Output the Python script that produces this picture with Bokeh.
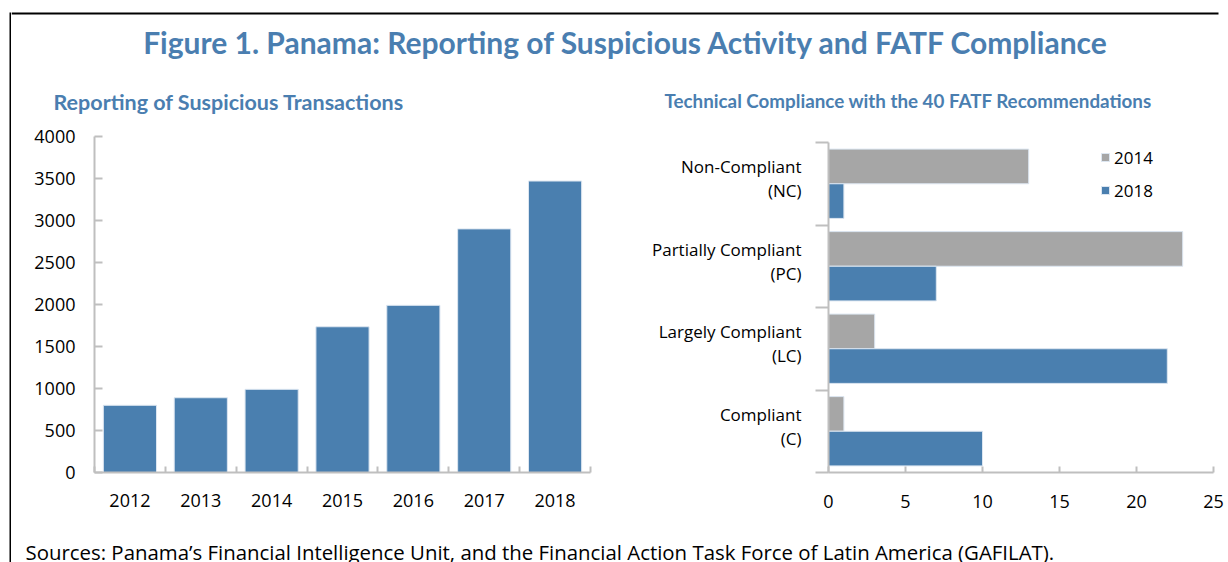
from bokeh.plotting import figure
from bokeh.layouts import column, row
from bokeh.models import Range1d, FixedTicker, Label, ColumnDataSource
from bokeh.transform import dodge
from bokeh.embed import file_html
from bokeh.resources import INLINE

# ---------------- data ----------------
title_text = "Figure 1. Panama: Reporting of Suspicious Activity and FATF Compliance"
left_title = "Reporting of Suspicious Transactions"
right_title = "Technical Compliance with the 40 FATF Recommendations"
source_text = ("Sources: Panama\u2019s Financial Intelligence Unit, and the Financial "
               "Action Task Force of Latin America (GAFILAT).")

years = ["2012", "2013", "2014", "2015", "2016", "2017", "2018"]
reports = [800, 890, 990, 1735, 1990, 2900, 3470]
report_ticks = [0, 500, 1000, 1500, 2000, 2500, 3000, 3500, 4000]

compliance_cats = ["Non-Compliant\n(NC)", "Partially Compliant\n(PC)",
                   "Largely Compliant\n(LC)", "Compliant\n(C)"]
ratings_2014 = [13, 23, 3, 1]
ratings_2018 = [1, 7, 22, 10]
rating_ticks = [0, 5, 10, 15, 20, 25]
series_names = ["2014", "2018"]

# ---------------- styles ----------------
BLUE = "#4A7FAF"
GREY = "#A6A6A6"
AXIS = "#BFBFBF"
EDGE = "#DCE6F1"
TITLE_BLUE = "#4A7EB0"
TITLE_FONT = "Lato"
TICK_FONT = "Open Sans"
STRIP_W = 11
W = 1217
HEADER_H = 118
ROW_H = 402
FOOTER_H = 42
TOTAL_H = HEADER_H + ROW_H + FOOTER_H
TOP_PAD = 0.073      # extra space above the first category band (band units)
LABEL_SHIFT = 0.06   # category labels sit slightly above band centres


def blank(width, height):
    p = figure(width=width, height=height, x_range=Range1d(0, width),
               y_range=Range1d(0, height), toolbar_location=None, title=None,
               output_backend="svg", x_axis_type=None, y_axis_type=None,
               min_border=0)
    p.grid.visible = False
    p.outline_line_color = None
    return p


# ---------------- frame lines (decoration) ----------------
strip = blank(STRIP_W, TOTAL_H)
strip.segment(x0=[10], y0=[0], x1=[10], y1=[TOTAL_H - 12], line_color="black",
              line_width=2)

# ---------------- header ----------------
header = blank(W, HEADER_H)
header.segment(x0=[0], y0=[HEADER_H - 13], x1=[W - 10], y1=[HEADER_H - 13],
               line_color="black", line_width=2)
header.add_layout(Label(x=615, y=77, text=title_text, text_align="center",
                        text_baseline="middle", text_font=TITLE_FONT,
                        text_font_style="bold", text_font_size="30px",
                        text_color=TITLE_BLUE))
header.add_layout(Label(x=42, y=17, text=left_title, text_align="left",
                        text_baseline="middle", text_font=TITLE_FONT,
                        text_font_style="bold", text_font_size="21.5px",
                        text_color=TITLE_BLUE))
header.add_layout(Label(x=653, y=18, text=right_title, text_align="left",
                        text_baseline="middle", text_font=TITLE_FONT,
                        text_font_style="bold", text_font_size="18.8px",
                        text_color=TITLE_BLUE))

# ---------------- left chart ----------------
left_src = ColumnDataSource(dict(x=list(range(len(years))), top=reports))
left = figure(width=609, height=ROW_H, x_range=Range1d(-0.5, len(years) - 0.5),
              y_range=Range1d(report_ticks[0], report_ticks[-1]),
              toolbar_location=None, title=None, output_backend="svg",
              min_border_left=83, min_border_right=30,
              min_border_top=18, min_border_bottom=48)
left.grid.visible = False
left.outline_line_color = None
left.vbar(x="x", top="top", width=0.75, source=left_src, fill_color=BLUE,
          line_color=EDGE, line_width=1)

xa = left.xaxis[0]
xa.ticker = FixedTicker(ticks=list(range(len(years))),
                        minor_ticks=[i - 0.5 for i in range(len(years) + 1)])
xa.major_label_overrides = {i: y for i, y in enumerate(years)}
xa.major_tick_line_color = None
xa.major_tick_in = 0
xa.major_tick_out = 0
xa.minor_tick_in = 6
xa.minor_tick_out = 0
xa.minor_tick_line_color = AXIS
xa.minor_tick_line_width = 2
xa.axis_line_color = AXIS
xa.axis_line_width = 2
xa.major_label_standoff = 21
xa.major_label_text_font = TICK_FONT
xa.major_label_text_font_size = "18px"
xa.major_label_text_color = "#000000"

ya = left.yaxis[0]
ya.ticker = FixedTicker(ticks=report_ticks)
ya.major_tick_in = 8
ya.major_tick_out = 0
ya.minor_tick_in = 0
ya.minor_tick_out = 0
ya.major_tick_line_color = AXIS
ya.major_tick_line_width = 2
ya.minor_tick_line_color = None
ya.axis_line_color = AXIS
ya.axis_line_width = 2
ya.major_label_standoff = 19
ya.major_label_text_font = TICK_FONT
ya.major_label_text_font_size = "18px"
ya.major_label_text_color = "#000000"

# ---------------- right chart ----------------
idx = list(range(len(compliance_cats)))
right_src = ColumnDataSource(dict(idx=idx, a=ratings_2014, b=ratings_2018))
right = figure(width=608, height=ROW_H,
               x_range=Range1d(rating_ticks[0], rating_ticks[-1]),
               y_range=Range1d(len(idx) - 0.5, -0.5 - TOP_PAD),
               toolbar_location=None, title=None, output_backend="svg",
               min_border_left=208, min_border_right=15,
               min_border_top=18, min_border_bottom=48)
right.grid.visible = False
right.outline_line_color = None
right.hbar(y=dodge("idx", -0.21), right="a", height=0.42, source=right_src,
           fill_color=GREY, line_color=EDGE, line_width=1,
           legend_label=series_names[0])
right.hbar(y=dodge("idx", 0.21), right="b", height=0.42, source=right_src,
           fill_color=BLUE, line_color=EDGE, line_width=1,
           legend_label=series_names[1])

rx = right.xaxis[0]
rx.ticker = FixedTicker(ticks=rating_ticks)
rx.major_tick_in = 6
rx.major_tick_out = 0
rx.minor_tick_in = 0
rx.minor_tick_out = 0
rx.major_tick_line_color = AXIS
rx.major_tick_line_width = 2
rx.minor_tick_line_color = None
rx.axis_line_color = AXIS
rx.axis_line_width = 2
rx.major_label_standoff = 22
rx.major_label_text_font = TICK_FONT
rx.major_label_text_font_size = "18px"
rx.major_label_text_color = "#000000"

label_pos = [i - LABEL_SHIFT for i in idx]
ry = right.yaxis[0]
ry.ticker = FixedTicker(ticks=label_pos,
                        minor_ticks=[i - 0.5 for i in range(len(idx) + 1)])
ry.bounds = (-0.5, len(idx) - 0.5)
ry.major_label_overrides = {p: c for p, c in zip(label_pos, compliance_cats)}
ry.major_tick_line_color = None
ry.major_tick_in = 0
ry.major_tick_out = 0
ry.minor_tick_in = 0
ry.minor_tick_out = 13
ry.minor_tick_line_color = AXIS
ry.minor_tick_line_width = 2
ry.axis_line_color = AXIS
ry.axis_line_width = 2
ry.major_label_standoff = 14
ry.major_label_text_font = TICK_FONT
ry.major_label_text_font_size = "17px"
ry.major_label_text_line_height = 1.05
ry.major_label_text_align = "center"
ry.major_label_text_color = "#000000"

lg = right.legend[0]
lg.location = (272, 270)
lg.padding = 0
lg.margin = 0
lg.glyph_width = 10
lg.glyph_height = 10
lg.label_standoff = 4
lg.label_height = 24
lg.spacing = 9
lg.border_line_color = None
lg.background_fill_alpha = 0
lg.label_text_font = TICK_FONT
lg.label_text_font_size = "17px"
lg.label_text_color = "#000000"

# ---------------- footer ----------------
footer = blank(W, FOOTER_H)
footer.add_layout(Label(x=14, y=11, text=source_text, text_align="left",
                        text_baseline="alphabetic", text_font=TICK_FONT,
                        text_font_size="20.4px", text_color="#000000"))

layout = row(strip, column(header, row(left, right), footer))

open("out.html", "w").write(file_html(layout, INLINE))
